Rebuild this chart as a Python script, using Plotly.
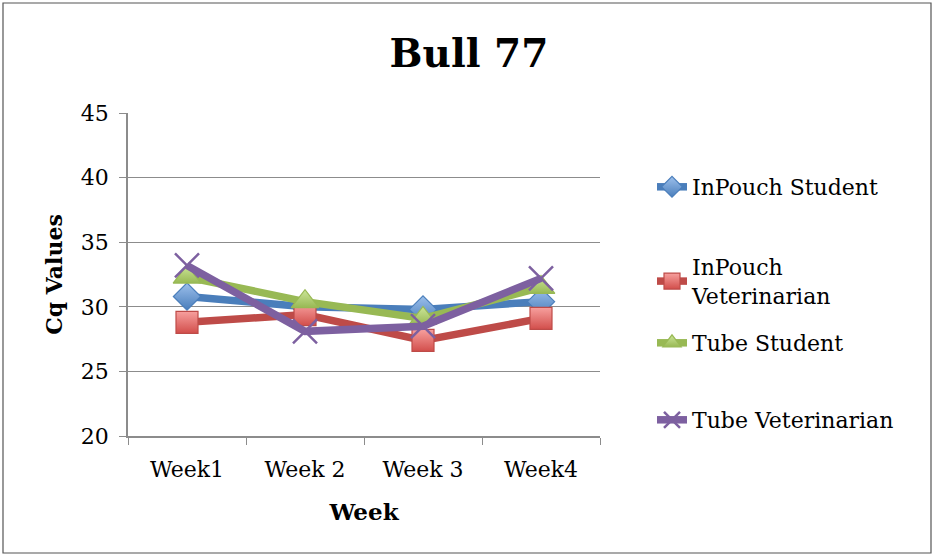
import plotly.graph_objects as go

weeks = ["Week1", "Week 2", "Week 3", "Week4"]
inpouch_student = [30.8, 30.0, 29.8, 30.4]
inpouch_vet = [28.8, 29.4, 27.4, 29.1]
tube_student = [32.3, 30.4, 29.1, 31.5]
tube_vet = [33.2, 28.1, 28.5, 32.2]

names = ["InPouch Student", "InPouch<br>Veterinarian", "Tube Student", "Tube Veterinarian"]
values = [inpouch_student, inpouch_vet, tube_student, tube_vet]

styles = [
    ("#4A7EBB", "#9DC0EC", "#4A7EBB", "diamond", 21),
    ("#BE4B48", "#F7A09E", "#D24E4B", "square", 22),
    ("#98B954", "#CDE69A", "#98B954", "triangle-up", 24),
    ("#7D60A0", "#7D60A0", "#7D60A0", "x-thin", 24),
]

# plot area in pixels: x 128..600, y 113..436
def py(p):
    return (436 - p) / 323

legend_centers = [187, 281.5, 343, 420]

FONT = "DejaVu Serif, Liberation Serif, serif"
fig = go.Figure()
for i, (name, vals, st) in enumerate(zip(names, values, styles)):
    lc, fc, gc, sym, sz = st
    if sym == "x-thin":
        marker = dict(symbol=sym, size=sz, color=lc, line=dict(color=lc, width=2.5))
    else:
        marker = dict(symbol=sym, size=sz, color=fc, line=dict(color=lc, width=1.2),
                      gradient=dict(type="vertical", color=gc))
    fig.add_trace(go.Scatter(
        x=weeks, y=vals, name=name, mode="lines+markers",
        line=dict(color=lc, width=7.5),
        marker=marker,
        legend="legend" if i == 0 else f"legend{i+1}",
    ))

leg_common = dict(xanchor="left", yanchor="middle", font=dict(size=22, color="black", family=FONT),
                  bgcolor="rgba(0,0,0,0)", borderwidth=0)
layout_legends = {}
for i, c in enumerate(legend_centers):
    key = "legend" if i == 0 else f"legend{i+1}"
    layout_legends[key] = dict(x=(652 - 128) / 472, y=py(c), **leg_common)

fig.update_layout(
    width=935, height=556,
    margin=dict(l=128, r=335, t=113, b=120),
    paper_bgcolor="white", plot_bgcolor="white",
    font=dict(family=FONT, color="black"),
    title=dict(text="<b>Bull 77</b>", x=469 / 935, xanchor="center", y=1 - 53 / 556, yanchor="middle",
               font=dict(size=39, family=FONT, color="black")),
    showlegend=True,
    xaxis=dict(
        type="category", range=[-0.5, 3.5], showgrid=False, showline=True, linecolor="#8C8C8C", linewidth=1.5,
        ticks="outside", tickson="boundaries", ticklen=7, tickcolor="#8C8C8C", ticklabelstandoff=13,
        tickfont=dict(size=22), title=dict(text="<b>Week</b>", font=dict(size=23), standoff=23),
    ),
    yaxis=dict(
        range=[20, 45], dtick=5, showgrid=True, gridcolor="#8C8C8C", gridwidth=1.2,
        showline=True, linecolor="#8C8C8C", linewidth=1.5, zeroline=False,
        ticks="outside", ticklen=7, tickcolor="#8C8C8C", ticklabelstandoff=6,
        tickfont=dict(size=22), title=dict(text="<b>Cq Values</b>", font=dict(size=22), standoff=12),
    ),
    shapes=[dict(type="rect", xref="paper", yref="paper",
                 x0=(3 - 128) / 472, x1=(931 - 128) / 472,
                 y0=py(553), y1=py(3),
                 line=dict(color="#555555", width=1.2), fillcolor="rgba(0,0,0,0)", layer="below")],
    **layout_legends,
)

fig.write_html("out.html", config={"displayModeBar": False},
               post_script="document.body.style.margin='0';")
